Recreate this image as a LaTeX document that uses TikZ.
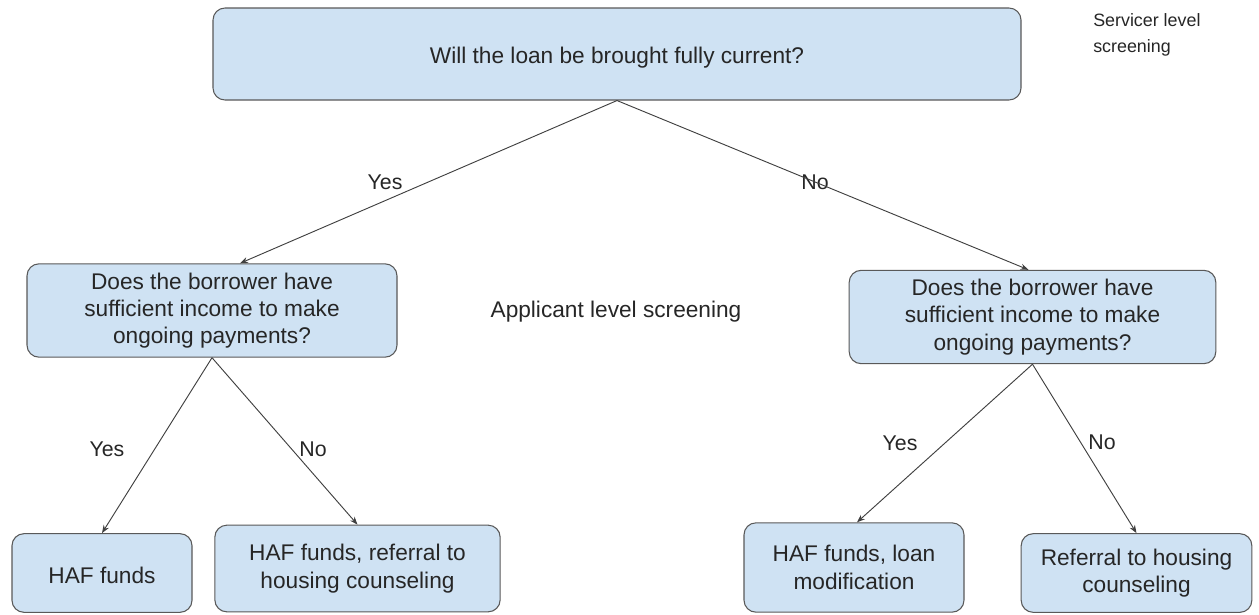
\documentclass[tikz,border=0pt]{standalone}
\usepackage{fontspec}
\setmainfont{Liberation Sans}
\usetikzlibrary{calc,arrows.meta}
\definecolor{boxfill}{HTML}{CFE2F3}
\definecolor{boxline}{HTML}{595959}
\definecolor{txt}{HTML}{262626}
\begin{document}
\begin{tikzpicture}[x=0.75pt,y=-0.75pt,
  box/.style={draw=boxline,fill=boxfill,rounded corners=9pt,line width=0.8pt,
    align=center,inner sep=0pt,text=txt,font=\fontsize{17}{20.5}\selectfont},
  lbl/.style={text=txt,font=\fontsize{16}{19}\selectfont,inner sep=0pt},
  conn/.style={draw=black!75,line width=0.7pt,-{Stealth[length=6pt,width=4.5pt]}}]
\useasboundingbox (0,0) rectangle (1259,614);
\node[box,minimum width=606pt,minimum height=69pt] (top) at (617,54) {\raisebox{-3pt}[\height][\depth]{Will the loan be brought fully current?}};
\node[box,minimum width=277.5pt,minimum height=70pt] (L) at (212,310.5) {Does the borrower have\\sufficient income to make\\ongoing payments?};
\node[box,minimum width=275pt,minimum height=70pt] (R) at (1032.5,317) {Does the borrower have\\sufficient income to make\\ongoing payments?};
\node[box,minimum width=135pt,minimum height=59pt] (B1) at (102,573) {\raisebox{-1.5pt}[\height][\depth]{HAF funds}};
\node[box,minimum width=214pt,minimum height=65pt] (B2) at (357.5,568.5) {HAF funds, referral to\\housing counseling};
\node[box,minimum width=165pt,minimum height=67pt] (B3) at (854,567.5) {HAF funds, loan\\modification};
\node[box,minimum width=173pt,minimum height=59pt] (B4) at (1136.5,573) {Referral to housing\\counseling};
\node[text=txt,align=left,anchor=west,inner sep=0pt,font=\fontsize{13.4}{19}\selectfont] (svc) at (1093,35) {Servicer level\\screening};
\node[lbl,font=\fontsize{17}{20}\selectfont] (app) at (616,312) {Applicant level screening};
\node[lbl] (y1) at (385,182) {Yes};
\node[lbl] (n1) at (815,182) {No};
\node[lbl] (y2) at (107,449) {Yes};
\node[lbl] (n2) at (313,449) {No};
\node[lbl] (y3) at (900,443) {Yes};
\node[lbl] (n3) at (1102,442) {No};
\draw[conn] (top.south) -- ($(L.north)+(28,0)$);
\draw[conn] (top.south) -- ($(R.north)+(-4,0)$);
\draw[conn] (L.south) -- (B1.north);
\draw[conn] (L.south) -- (B2.north);
\draw[conn] (R.south) -- ($(B3.north)+(3,0)$);
\draw[conn] (R.south) -- (B4.north);
\end{tikzpicture}
\end{document}
